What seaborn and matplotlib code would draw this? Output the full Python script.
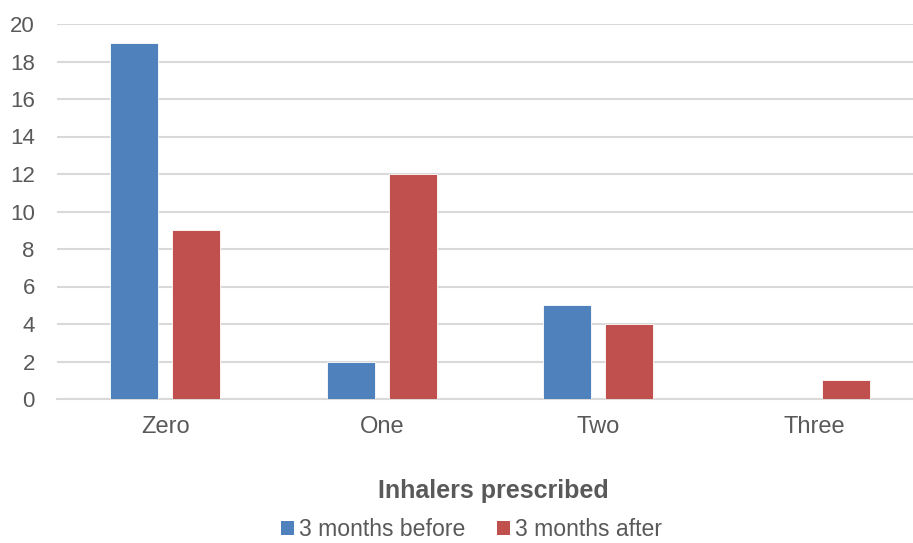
import matplotlib
matplotlib.use("Agg")
import matplotlib.pyplot as plt
from matplotlib.patches import Patch
import seaborn as sns
import pandas as pd

categories = ["Zero", "One", "Two", "Three"]
before_vals = [19, 2, 5, 0]
after_vals = [9, 12, 4, 1]
series_names = ["3 months before", "3 months after"]
colors = ["#4F81BD", "#C0504D"]

df = pd.DataFrame({
    "Inhalers": categories * 2,
    "Count": before_vals + after_vals,
    "Period": [series_names[0]] * 4 + [series_names[1]] * 4,
})

sns.set_theme(style="white")
plt.rcParams["font.family"] = ["Liberation Sans", "DejaVu Sans"]
text_color = "#595959"
grid_color = "#D9D9D9"

W, H = 913, 543
fig = plt.figure(figsize=(W / 100, H / 100), dpi=100)
left, right, top, bottom = 57, 923, 24, 399
ax = fig.add_axes([left / W, (H - bottom) / H, (right - left) / W, (bottom - top) / H])

sns.barplot(data=df, x="Inhalers", y="Count", hue="Period", order=categories,
            hue_order=series_names, palette=colors, width=0.572, gap=0.23,
            saturation=1, ax=ax, legend=False, edgecolor="white", linewidth=0.6,
            zorder=3)

ax.set_ylim(0, 20)
ax.set_xlim(-0.5, 3.5)
ax.set_yticks(range(0, 21, 2))
ax.yaxis.grid(True, color=grid_color, linewidth=1.5, zorder=0)
ax.set_axisbelow(True)
for s in ["top", "right", "left"]:
    ax.spines[s].set_visible(False)
ax.spines["bottom"].set_color(grid_color)
ax.spines["bottom"].set_linewidth(1.5)
ax.tick_params(axis="both", length=0, colors=text_color)
ax.tick_params(axis="x", pad=12.5, labelsize=17)
ax.tick_params(axis="y", pad=16, labelsize=16)
ax.set_ylabel("")
ax.set_xlabel("")

fig.text(493 / W, 1 - 491 / H, "Inhalers prescribed", ha="center", va="center",
         fontsize=18, fontweight="bold", color=text_color)

handles = [Patch(facecolor=c, edgecolor="none") for c in colors]
fig.legend(handles, series_names, loc="center", bbox_to_anchor=(471.5 / W, 1 - 530 / H),
           ncol=2, frameon=False, fontsize=16.6, labelcolor=text_color,
           handlelength=0.56, handleheight=0.56, handletextpad=0.22, columnspacing=1.4,
           borderpad=0, borderaxespad=0)

fig.savefig("out.png", dpi=100)
